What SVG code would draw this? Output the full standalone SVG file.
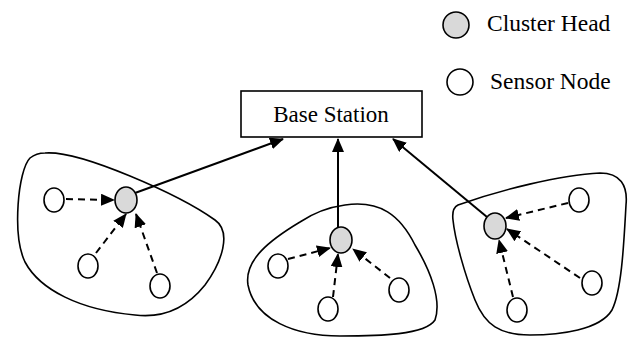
<svg xmlns="http://www.w3.org/2000/svg" width="634" height="338" viewBox="0 0 634 338">
<style>
.cl{fill:none;stroke:#000;stroke-width:1.6}
.sn{fill:#fff;stroke:#000;stroke-width:1.6}
.ch{fill:#d9d9d9;stroke:#000;stroke-width:1.6}
.d{fill:none;stroke:#000;stroke-width:2;stroke-dasharray:7,5;marker-end:url(#ah)}
.s{fill:none;stroke:#000;stroke-width:2;marker-end:url(#ah)}
text{font-family:"Liberation Serif","Times New Roman",serif;fill:#000}
</style>
<defs>
<marker id="ah" markerUnits="userSpaceOnUse" markerWidth="14" markerHeight="12" refX="13" refY="6" orient="auto">
<path d="M0,0 L14,6 L0,12 Z" fill="#000"/>
</marker>
</defs>
<g id="clusters">
<path class="cl" d="M45,153 C80,150 180,195 215,220 C232,232 222,262 205,285 C185,310 160,318 135,315 C80,310 40,290 25,262 C12,235 18,170 30,158 C35,154 40,153 45,153 Z"/>
<path class="cl" d="M345,205 C380,200 400,215 415,245 C430,270 442,300 435,320 C425,335 380,336 340,336 C295,336 255,320 248,285 C244,260 270,240 300,222 C315,212 330,207 345,205 Z"/>
<path class="cl" d="M458,205 C500,190 560,175 600,173 C620,173 628,185 626,205 C624,240 622,290 612,310 C600,330 560,335 530,335 C500,335 485,325 475,300 C465,275 455,240 453,220 C452,212 454,207 458,205 Z"/>
</g>
<g id="connectors">
<line class="s" x1="135" y1="193" x2="283" y2="139"/>
<line class="s" x1="338" y1="227" x2="338" y2="139"/>
<line class="s" x1="487" y1="217" x2="393" y2="139"/>
<line class="d" x1="66" y1="199" x2="114" y2="200"/>
<line class="d" x1="96" y1="253" x2="126" y2="214"/>
<line class="d" x1="157" y1="273" x2="136" y2="214"/>
<line class="d" x1="288" y1="259" x2="330" y2="248"/>
<line class="d" x1="333" y1="297" x2="338" y2="254"/>
<line class="d" x1="390" y1="278" x2="353" y2="249"/>
<line class="d" x1="568" y1="203" x2="506" y2="218"/>
<line class="d" x1="580" y1="278" x2="507" y2="229"/>
<line class="d" x1="513" y1="297" x2="499" y2="240"/>
</g>
<g id="base-station">
<rect x="241" y="91" width="181" height="46" fill="#fff" stroke="#000" stroke-width="1.6"/>
<text x="331" y="122" font-size="23" text-anchor="middle">Base Station</text>
</g>
<g id="cluster1-nodes">
<ellipse class="sn" cx="54" cy="200" rx="10" ry="12"/>
<ellipse class="ch" cx="126" cy="200" rx="11" ry="13"/>
<ellipse class="sn" cx="88" cy="266" rx="10" ry="12"/>
<ellipse class="sn" cx="160" cy="286" rx="10" ry="12"/>
</g>
<g id="cluster2-nodes">
<ellipse class="ch" cx="341" cy="240" rx="11" ry="13"/>
<ellipse class="sn" cx="278" cy="266" rx="10" ry="12"/>
<ellipse class="sn" cx="328" cy="309" rx="10" ry="12"/>
<ellipse class="sn" cx="399" cy="290" rx="10" ry="12"/>
</g>
<g id="cluster3-nodes">
<ellipse class="ch" cx="495" cy="226" rx="11" ry="13"/>
<ellipse class="sn" cx="579" cy="200" rx="10" ry="12"/>
<ellipse class="sn" cx="592" cy="283" rx="10" ry="12"/>
<ellipse class="sn" cx="517" cy="310" rx="10" ry="12"/>
</g>
<g id="legend">
<circle class="ch" cx="456" cy="25" r="13"/>
<text x="487" y="31" font-size="23.5">Cluster Head</text>
<circle class="sn" cx="460" cy="82" r="13"/>
<text x="490" y="89" font-size="23.5">Sensor Node</text>
</g>
</svg>
